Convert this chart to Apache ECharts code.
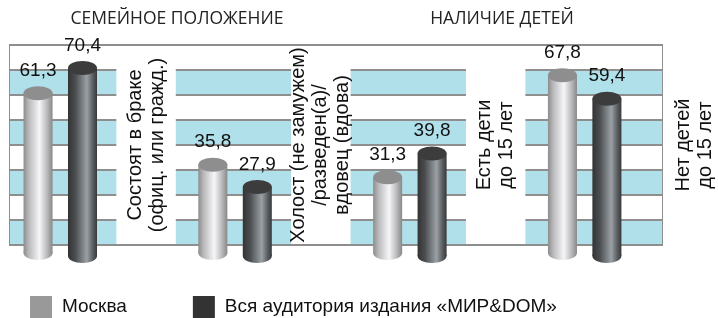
<!DOCTYPE html>
<html>
<head>
<meta charset="utf-8">
<script src="https://cdn.jsdelivr.net/npm/echarts@6/dist/echarts.min.js"></script>
<style>
  html, body { margin: 0; padding: 0; background: #fff; }
  #chart { width: 718px; height: 318px; }
</style>
</head>
<body>
<div id="chart"></div>
<script>
var categories = [
  'Состоят в браке\n(офиц. или гражд.)',
  'Холост (не замужем)\n/разведен(а)/\nвдовец (вдова)',
  'Есть дети\nдо 15 лет',
  'Нет детей\nдо 15 лет'
];
var moscow = [61.3, 35.8, 31.3, 67.8];
var audience = [70.4, 27.9, 39.8, 59.4];
var seriesNames = ['Москва', 'Вся аудитория издания «МИР&DOM»'];
var panelTitles = ['СЕМЕЙНОЕ ПОЛОЖЕНИЕ', 'НАЛИЧИЕ ДЕТЕЙ'];

// striped frame behind the cylinders
var FRAME = { left: 10, top: 45, width: 652, height: 200 };
var LABEL_FONT = '20px "Liberation Sans", Arial, sans-serif';
var VALUE_FONT = '19px "Liberation Sans", Arial, sans-serif';

var chart = echarts.init(document.getElementById('chart'));

function fmt(v) {
  return v.toFixed(1).replace('.', ',');
}

function hGrad(stops) {
  return new echarts.graphic.LinearGradient(0, 0, 1, 0, stops.map(function (s) {
    return { offset: s[0], color: s[1] };
  }));
}

var moscowGrad = [[0, '#8c8c8c'], [0.18, '#b9b9bb'], [0.55, '#f6f6f8'], [0.8, '#bcbcbe'], [1, '#888888']];
var audienceGrad = [[0, '#333333'], [0.25, '#4a4d50'], [0.65, '#9aa0a4'], [0.85, '#5c6064'], [1, '#383838']];

// offset and width are fractions of the category band
function cylinder(offset, stops, topColor, lift) {
  return function (params, api) {
    var i = api.value(0);
    var v = api.value(1);
    var band = api.size([1, 0])[0];
    var top = api.coord([i, v]);
    var base = api.coord([i, 0]);
    var w = band * 0.166;
    var cx = top[0] + offset * band;
    var ry = 7;
    var bottomY = base[1] - lift;
    return {
      type: 'group',
      children: [
        { type: 'ellipse', shape: { cx: cx, cy: bottomY, rx: w / 2, ry: ry }, style: { fill: hGrad(stops) } },
        { type: 'rect', shape: { x: cx - w / 2, y: top[1], width: w, height: bottomY - top[1] }, style: { fill: hGrad(stops) } },
        { type: 'ellipse', shape: { cx: cx, cy: top[1], rx: w / 2, ry: ry }, style: { fill: topColor } },
        {
          type: 'text', x: cx, y: top[1] - ry - 6,
          style: { text: fmt(v), font: VALUE_FONT, fill: '#111', align: 'center', verticalAlign: 'bottom' }
        }
      ]
    };
  };
}

function gapColumn(params, api) {
  var i = api.value(0);
  var band = api.size([1, 0])[0];
  var cx = api.coord([i, 0])[0];
  var x0 = cx + 0.105 * band;
  var x1 = cx + 0.445 * band;
  var frameRight = FRAME.left + FRAME.width;
  var children = [];
  var lx;
  if (x1 <= frameRight) {
    children.push({
      type: 'rect',
      shape: { x: x0, y: FRAME.top + 1, width: x1 - x0, height: FRAME.height - 2 },
      style: { fill: '#fff' }
    });
    lx = (x0 + x1) / 2;
  } else {
    lx = frameRight + 32;
  }
  children.push({
    type: 'text', x: lx, y: FRAME.top + FRAME.height / 2, rotation: Math.PI / 2,
    style: {
      text: categories[i], font: LABEL_FONT, fill: '#111',
      align: 'center', verticalAlign: 'middle', lineHeight: 22
    }
  });
  return { type: 'group', children: children };
}

var option = {
  animation: false,
  backgroundColor: '#fff',
  graphic: panelTitles.map(function (t, k) {
    return {
      type: 'text', x: k === 0 ? 177 : 502, y: 19,
      style: { text: t, font: '17.5px "Open Sans", sans-serif', fill: '#222', align: 'center', verticalAlign: 'middle' }
    };
  }),
  legend: {
    data: seriesNames,
    left: 30,
    top: 296,
    padding: 0,
    icon: 'rect',
    itemWidth: 22,
    itemHeight: 22,
    itemGap: 66,
    textStyle: { fontFamily: '"Liberation Sans", Arial, sans-serif', fontSize: 19, color: '#111', padding: [0, 0, 0, 5] }
  },
  grid: [
    {
      left: FRAME.left, top: FRAME.top, width: FRAME.width, height: FRAME.height,
      show: true, borderColor: '#8e8e8e', borderWidth: 2, backgroundColor: '#fff'
    },
    { left: 10.6, top: 13, width: 699.2, height: 252 }
  ],
  xAxis: [
    { gridIndex: 0, type: 'value', min: 0, max: 1, show: false },
    { gridIndex: 1, type: 'category', data: categories, show: false }
  ],
  yAxis: [
    {
      gridIndex: 0, type: 'value', min: 0, max: 8, interval: 1,
      axisLine: { show: false }, axisTick: { show: false }, axisLabel: { show: false },
      splitLine: { show: true, lineStyle: { color: '#8e8e8e', width: 2 } },
      splitArea: { show: true, areaStyle: { color: ['#b0e0ea', '#ffffff'] } }
    },
    { gridIndex: 1, type: 'value', min: 0, max: 90, show: false }
  ],
  series: [
    {
      name: 'gaps', type: 'custom', xAxisIndex: 1, yAxisIndex: 1,
      renderItem: gapColumn,
      data: categories.map(function (c, i) { return [i, 0]; }),
      z: 3, silent: true
    },
    {
      name: seriesNames[0], type: 'custom', xAxisIndex: 1, yAxisIndex: 1,
      itemStyle: { color: '#999999' },
      renderItem: cylinder(-0.343, moscowGrad, '#8e8e8e', 12),
      data: moscow.map(function (v, i) { return [i, v]; }),
      z: 5
    },
    {
      name: seriesNames[1], type: 'custom', xAxisIndex: 1, yAxisIndex: 1,
      itemStyle: { color: '#333333' },
      renderItem: cylinder(-0.0887, audienceGrad, '#3c3c3c', 9),
      data: audience.map(function (v, i) { return [i, v]; }),
      z: 5
    }
  ]
};

chart.setOption(option);
</script>
</body>
</html>
